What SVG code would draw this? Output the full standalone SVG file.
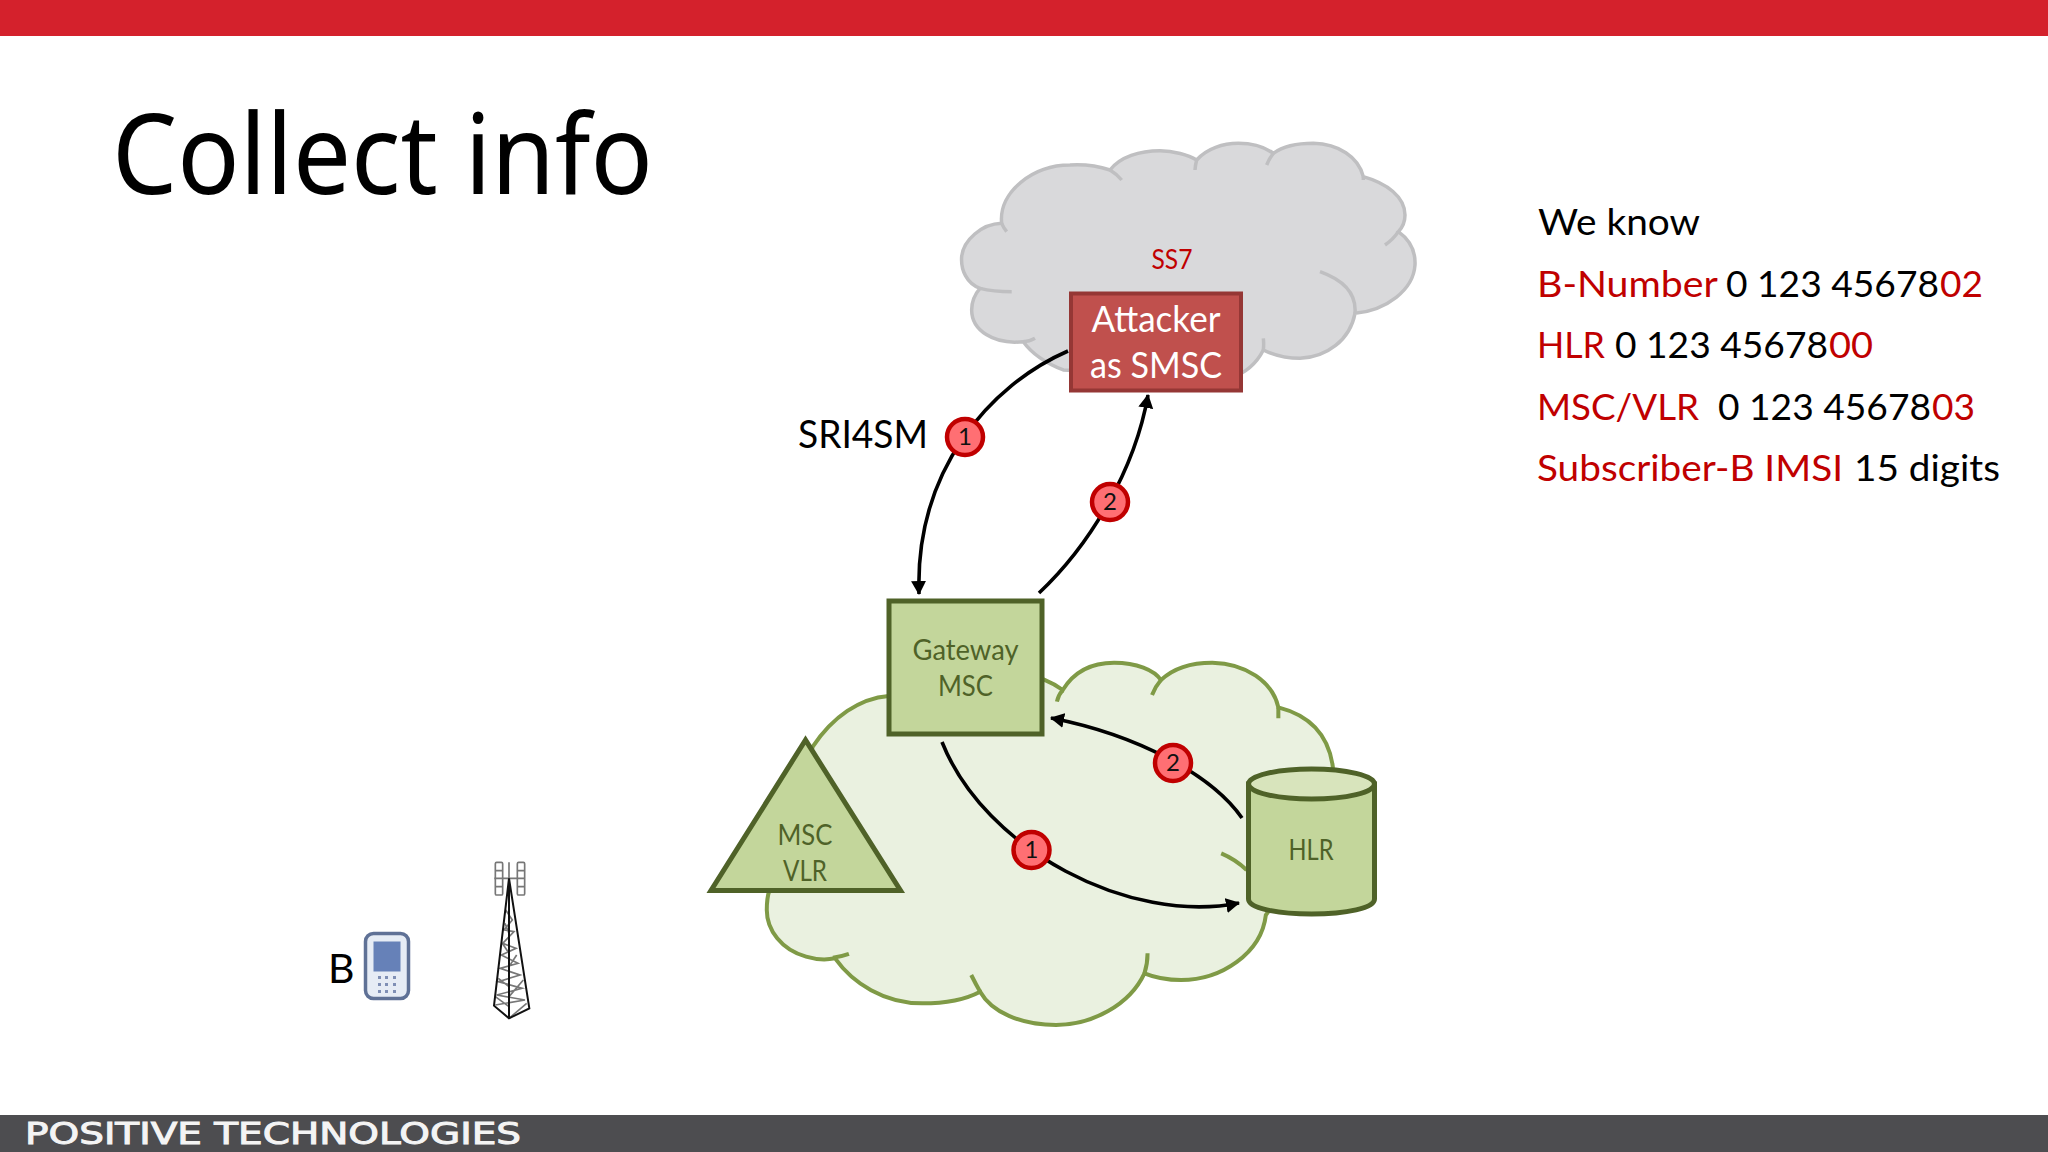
<svg xmlns="http://www.w3.org/2000/svg" width="2048" height="1152" viewBox="0 0 2048 1152">
<style>
text{font-family:"Lato","Noto Sans","Liberation Sans",sans-serif}
.ns{vector-effect:non-scaling-stroke}
.grey{fill:#d9d9db;stroke:#bfbfc1;stroke-width:3.5}
.greyl{fill:none;stroke:#bfbfc1;stroke-width:3.5}
.green{fill:#eaf1e0;stroke:#7f9a46;stroke-width:4}
.greenl{fill:none;stroke:#7f9a46;stroke-width:4}
.gn{fill:#c3d69b;stroke:#4f6228;stroke-width:5}
.gt{fill:#4f6228;font-size:28px;text-anchor:middle}
.wire{fill:none;stroke:#000;stroke-width:3.6}
.wa{marker-end:url(#arrow)}
.badge circle{fill:#ff6f73;stroke:#c00000;stroke-width:4.5}
.badge text{fill:#111;font-size:24px;text-anchor:middle}
.know{font-size:37px;fill:#000}
.r{fill:#c00000}
.tb{fill:none;stroke:#111;stroke-width:6}
.tg{fill:none;stroke:#777;stroke-width:5}
</style>
<defs>
<marker id="arrow" markerUnits="userSpaceOnUse" markerWidth="18" markerHeight="16" refX="13" refY="7.500" orient="auto"><path d="M0 0L14 7.500L0 15z" fill="#000"/></marker>
</defs>
<rect width="2048" height="1152" fill="#fff"/>
<rect id="top-bar" width="2048" height="36" fill="#d4212c"/>
<g id="footer">
<rect y="1115" width="2048" height="37" fill="#4d4d50"/>
<text x="25" y="1144" font-size="30" fill="#f4f4f4" stroke="#f4f4f4" stroke-width="1" textLength="496" lengthAdjust="spacingAndGlyphs" style="font-family:'DejaVu Sans',sans-serif">POSITIVE TECHNOLOGIES</text>
</g>
<text id="title" x="112" y="194" font-size="112" fill="#000" textLength="541" lengthAdjust="spacingAndGlyphs" style="font-family:'Noto Sans',sans-serif">Collect info</text>

<g id="ss7-cloud">
<g transform="translate(930 120) scale(.33333)">
<path class="grey ns" d="M215 310C205 215 310 135 420 135C470 132 510 140 540 150C570 110 630 92 690 92C730 92 775 105 800 120C830 85 880 70 925 70C965 70 1005 82 1030 100C1065 75 1110 70 1150 70C1225 72 1285 110 1300 170C1370 190 1425 230 1425 285C1425 305 1418 322 1405 335C1440 360 1457 395 1455 435C1450 510 1370 570 1275 580C1260 660 1190 712 1110 715C1065 715 1030 705 1000 690C980 730 945 760 900 775L400 750C350 730 305 700 280 665C190 675 125 630 125 570C125 545 135 522 150 505C110 490 92 450 95 410C100 360 155 312 215 310Z"/>
<path class="greyl ns" d="M215 310Q220 322 230 335M540 150Q560 162 575 180M800 120Q796 135 795 150M1030 100Q1018 115 1010 135M1300 170V180M1405 335Q1390 358 1365 375M1275 580C1280 520 1240 480 1170 455M1000 690Q1002 672 1000 655M280 665Q298 665 315 655M150 505Q190 515 245 515"/>
</g>
<text x="1172" y="269" font-size="27" fill="#c00000" text-anchor="middle" textLength="41" lengthAdjust="spacingAndGlyphs">SS7</text>
</g>

<g id="core-cloud">
<g transform="translate(690 590) scale(.4464 .33333)">
<path class="green ns" d="M792 268C810 278 825 290 835 300C860 245 900 218 950 218C1000 218 1040 240 1055 270C1085 232 1125 218 1170 218C1245 220 1305 275 1318 352C1385 375 1430 430 1440 530L1440 700L1290 975C1280 1090 1190 1170 1100 1170C1070 1170 1040 1162 1018 1150C985 1245 900 1305 820 1305C740 1305 675 1265 650 1205C615 1230 570 1240 520 1240C435 1240 365 1180 325 1105C300 1112 280 1108 260 1100C205 1080 172 1020 172 960C172 940 173 920 178 900L275 470C320 380 380 325 445 318Z"/>
<path class="greenl ns" d="M320 1103Q340 1100 356 1092M630 1155Q640 1182 650 1205M1025 1090Q1025 1122 1018 1150M1190 790Q1222 808 1247 840M1318 352V385M1055 270Q1042 290 1035 315M835 300Q825 315 822 335"/>
</g>
</g>

<g id="connectors">
<path class="wire wa" d="M1068 351C990 385 915 470 919 594"/>
<path class="wire wa" d="M1039 593C1090 545 1135 470 1148 395"/>
<path class="wire wa" d="M942 742C985 850 1130 925 1239 903"/>
<path class="wire wa" d="M1242 818C1212 775 1138 735 1051 718"/>
</g>

<g id="attacker">
<rect x="1071" y="293.500" width="170" height="97" fill="#c0504d" stroke="#953735" stroke-width="4"/>
<text x="1156" y="332" font-size="36" fill="#fff" text-anchor="middle" textLength="129" lengthAdjust="spacingAndGlyphs">Attacker</text>
<text x="1156" y="378" font-size="36" fill="#fff" text-anchor="middle" textLength="132" lengthAdjust="spacingAndGlyphs">as SMSC</text>
</g>
<g id="gateway-msc">
<rect class="gn" x="889" y="601" width="153" height="133"/>
<text class="gt" x="965.500" y="660" textLength="106" lengthAdjust="spacingAndGlyphs">Gateway</text>
<text class="gt" x="965.500" y="696" textLength="55" lengthAdjust="spacingAndGlyphs">MSC</text>
</g>
<g id="msc-vlr">
<polygon class="gn" points="805.500,740 711,890.500 900.500,890.500"/>
<text class="gt" x="805" y="845" textLength="55" lengthAdjust="spacingAndGlyphs">MSC</text>
<text class="gt" x="805" y="881" textLength="44" lengthAdjust="spacingAndGlyphs">VLR</text>
</g>
<g id="hlr">
<path class="gn" d="M1248.500 784V899C1248.500 908 1276.500 914 1311.500 914C1346.500 914 1374.500 908 1374.500 899V784Z"/>
<ellipse cx="1311.500" cy="784" rx="63" ry="15" fill="#d8e4bc" stroke="#4f6228" stroke-width="5"/>
<text class="gt" x="1311" y="860" textLength="45" lengthAdjust="spacingAndGlyphs">HLR</text>
</g>

<g class="badge" id="badge-sri-1"><circle cx="965" cy="437" r="18"/><text x="965" y="445">1</text></g>
<g class="badge" id="badge-sri-2"><circle cx="1110" cy="502" r="18"/><text x="1110" y="510">2</text></g>
<g class="badge" id="badge-hlr-1"><circle cx="1031.500" cy="850" r="18"/><text x="1031.500" y="858">1</text></g>
<g class="badge" id="badge-hlr-2"><circle cx="1173" cy="763" r="18"/><text x="1173" y="771">2</text></g>

<text id="sri4sm" x="798" y="448" font-size="38" fill="#000" textLength="130" lengthAdjust="spacingAndGlyphs">SRI4SM</text>

<g id="we-know">
<text class="know" x="1538" y="235" textLength="162" lengthAdjust="spacingAndGlyphs">We know</text>
<text class="know" y="297"><tspan class="r" x="1537" textLength="180" lengthAdjust="spacingAndGlyphs">B-Number</tspan> <tspan x="1726" textLength="213" lengthAdjust="spacingAndGlyphs">0 123 45678</tspan><tspan class="r" x="1940" textLength="43" lengthAdjust="spacingAndGlyphs">02</tspan></text>
<text class="know" y="358"><tspan class="r" x="1537" textLength="68" lengthAdjust="spacingAndGlyphs">HLR</tspan> <tspan x="1615" textLength="213" lengthAdjust="spacingAndGlyphs">0 123 45678</tspan><tspan class="r" x="1829" textLength="44" lengthAdjust="spacingAndGlyphs">00</tspan></text>
<text class="know" y="420"><tspan class="r" x="1537" textLength="162" lengthAdjust="spacingAndGlyphs">MSC/VLR</tspan> <tspan x="1718" textLength="213" lengthAdjust="spacingAndGlyphs">0 123 45678</tspan><tspan class="r" x="1932" textLength="43" lengthAdjust="spacingAndGlyphs">03</tspan></text>
<text class="know" y="481"><tspan class="r" x="1537" textLength="306" lengthAdjust="spacingAndGlyphs">Subscriber-B IMSI</tspan> <tspan x="1854" textLength="146" lengthAdjust="spacingAndGlyphs">15 digits</tspan></text>
</g>

<g id="subscriber-b">
<text x="328" y="983" font-size="41" fill="#000">B</text>
<rect x="365.500" y="933.500" width="43" height="65" rx="8" fill="#e6ecf5" stroke="#5f7196" stroke-width="3.500"/>
<rect x="373.500" y="941.500" width="27" height="30" fill="#6681b8"/>
<g fill="#7f8fb5">
<rect x="378" y="976" width="3" height="3"/><rect x="385" y="976" width="3" height="3"/><rect x="393" y="976" width="3" height="3"/>
<rect x="378" y="983" width="3" height="3"/><rect x="385" y="983" width="3" height="3"/><rect x="393" y="983" width="3" height="3"/>
<rect x="378" y="990" width="3" height="3"/><rect x="385" y="990" width="3" height="3"/><rect x="393" y="990" width="3" height="3"/>
</g>
</g>

<g id="tower" transform="translate(310 840) scale(.33333)">
<g class="tg">
<rect x="556" y="67" width="22" height="98" rx="4"/><rect x="622" y="67" width="22" height="98" rx="4"/>
<path d="M556 92H578M556 115H578M556 140H578M622 92H644M622 115H644M622 140H644M553 115H644M597 67V115"/>
<path d="M587 210L607 240L582 270L612 275L578 310L618 325L574 345L624 370L570 385L630 405L565 425L636 445L560 465L645 480L556 495M597 535L650 490M597 500L556 470M597 440L565 415M597 470L640 420M597 380L620 345M597 340L577 310M597 280L585 250"/>
</g>
<path class="tb" d="M597 115L552 497L597 535L658 505ZM597 115V535"/>
</g>
</svg>
